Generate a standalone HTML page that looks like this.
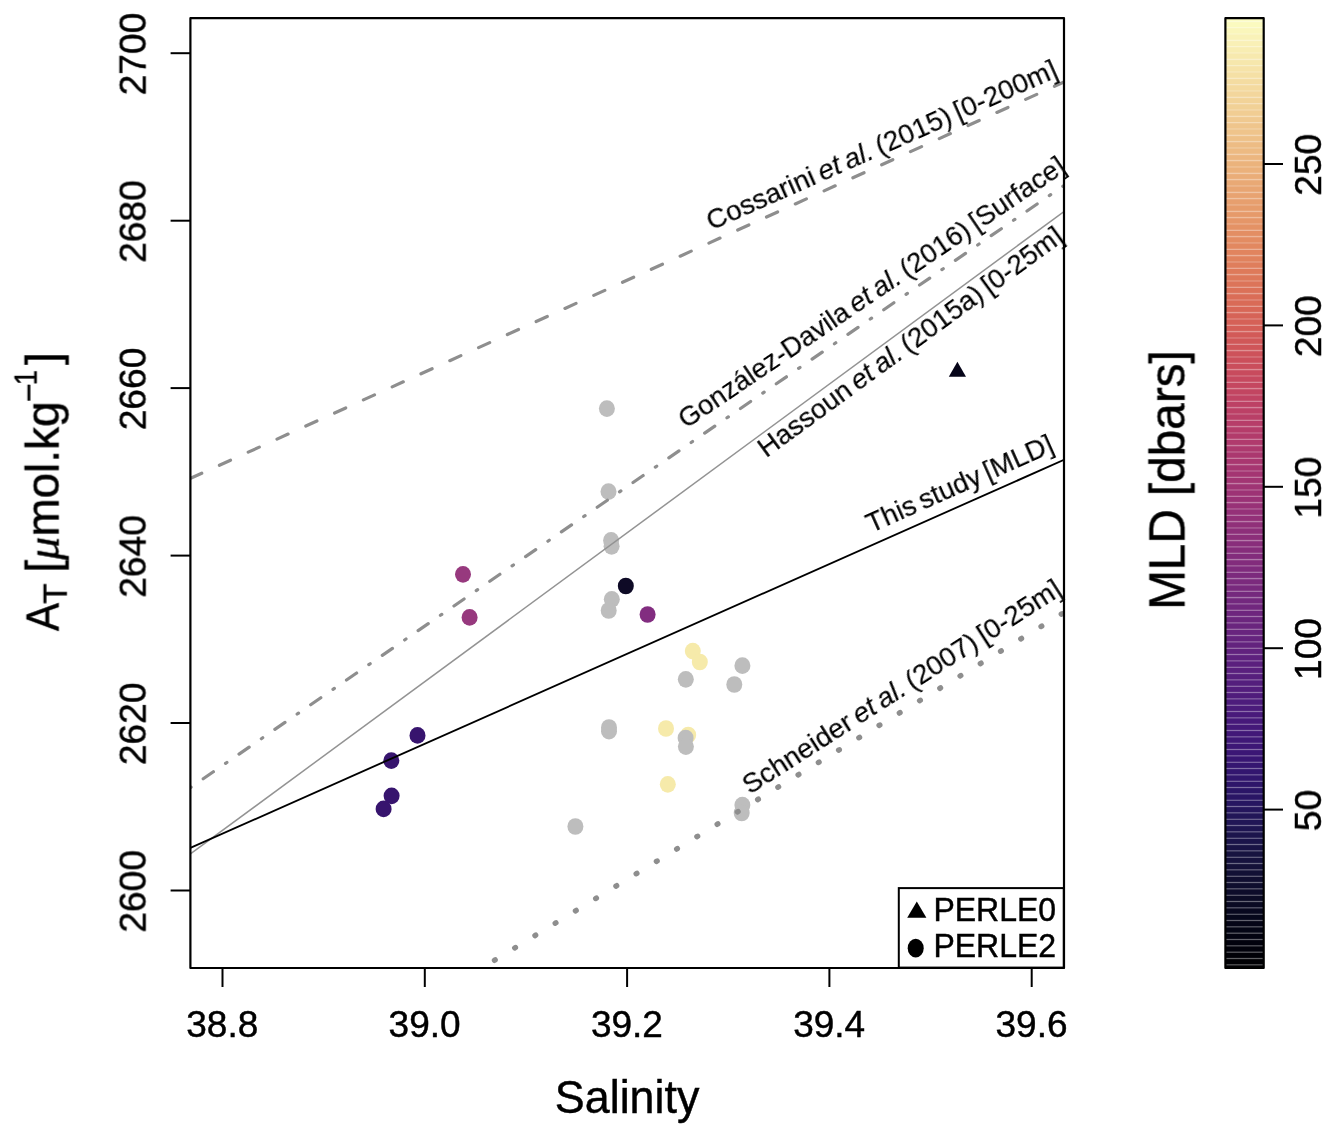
<!DOCTYPE html><html><head><meta charset="utf-8"><style>
html,body{margin:0;padding:0;background:#fff;}
svg{display:block;}
text{will-change:transform;}
text{font-family:"Liberation Sans", sans-serif;stroke:#000;stroke-width:0.45px;}
</style></head><body>
<svg width="1336" height="1136" viewBox="0 0 1336 1136">
<defs><clipPath id="pc"><rect x="190.4" y="18.2" width="873.6" height="949.8"/></clipPath></defs>

<g clip-path="url(#pc)">
<ellipse cx="463.0" cy="574.3" rx="8.0" ry="8.35" fill="#97397e"/>
<ellipse cx="469.6" cy="617.4" rx="8.0" ry="8.35" fill="#97397e"/>
<ellipse cx="647.6" cy="614.5" rx="8.0" ry="8.35" fill="#822d80"/>
<ellipse cx="417.5" cy="735.4" rx="8.0" ry="8.35" fill="#37146e"/>
<ellipse cx="391.3" cy="760.6" rx="8.0" ry="8.35" fill="#37146e"/>
<ellipse cx="391.6" cy="795.8" rx="8.0" ry="8.35" fill="#37146e"/>
<ellipse cx="383.6" cy="808.9" rx="8.0" ry="8.35" fill="#37146e"/>
<ellipse cx="692.8" cy="651.1" rx="8.0" ry="8.35" fill="#f6eaaa"/>
<ellipse cx="699.8" cy="662.0" rx="8.0" ry="8.35" fill="#f6eaaa"/>
<ellipse cx="666.0" cy="728.5" rx="8.0" ry="8.35" fill="#f6eaaa"/>
<ellipse cx="688.2" cy="735.0" rx="8.0" ry="8.35" fill="#f6eaaa"/>
<ellipse cx="667.8" cy="784.3" rx="8.0" ry="8.35" fill="#f6eaaa"/>
<ellipse cx="606.9" cy="408.6" rx="8.0" ry="8.35" fill="#bdbdbd"/>
<ellipse cx="608.5" cy="491.6" rx="8.0" ry="8.35" fill="#bdbdbd"/>
<ellipse cx="611.1" cy="540.4" rx="8.0" ry="8.35" fill="#bdbdbd"/>
<ellipse cx="611.6" cy="546.3" rx="8.0" ry="8.35" fill="#bdbdbd"/>
<ellipse cx="611.8" cy="599.3" rx="8.0" ry="8.35" fill="#bdbdbd"/>
<ellipse cx="608.7" cy="610.5" rx="8.0" ry="8.35" fill="#bdbdbd"/>
<ellipse cx="609.0" cy="727.5" rx="8.0" ry="8.35" fill="#bdbdbd"/>
<ellipse cx="609.0" cy="731.2" rx="8.0" ry="8.35" fill="#bdbdbd"/>
<ellipse cx="575.4" cy="826.5" rx="8.0" ry="8.35" fill="#bdbdbd"/>
<ellipse cx="685.8" cy="679.3" rx="8.0" ry="8.35" fill="#bdbdbd"/>
<ellipse cx="742.4" cy="665.7" rx="8.0" ry="8.35" fill="#bdbdbd"/>
<ellipse cx="734.3" cy="684.5" rx="8.0" ry="8.35" fill="#bdbdbd"/>
<ellipse cx="742.4" cy="805.1" rx="8.0" ry="8.35" fill="#bdbdbd"/>
<ellipse cx="741.7" cy="813.0" rx="8.0" ry="8.35" fill="#bdbdbd"/>
<ellipse cx="685.6" cy="738.0" rx="8.0" ry="8.35" fill="#bdbdbd"/>
<ellipse cx="685.9" cy="746.6" rx="8.0" ry="8.35" fill="#bdbdbd"/>
<ellipse cx="625.8" cy="586.0" rx="8.0" ry="8.35" fill="#0e0a26"/>
<path d="M948.8,376.8 L966.0,376.8 L957.4,361.8 Z" fill="#060519"/>
<line x1="190.4" y1="478.4" x2="1064.0" y2="82.0" stroke="#8e8e8e" stroke-width="3.2" stroke-linecap="round" stroke-dasharray="12.2 19.42" stroke-dashoffset="-0.25"/>
<line x1="190.4" y1="787.6" x2="1064.0" y2="185.5" stroke="#8e8e8e" stroke-width="3.2" stroke-linecap="round" stroke-dasharray="1.65 14.75 12.3 14.8" stroke-dashoffset="0.825"/>
<line x1="190.4" y1="854.0" x2="1064.0" y2="211.5" stroke="#939393" stroke-width="1.5"/>
<line x1="190.4" y1="847.9" x2="1064.0" y2="459.8" stroke="#000" stroke-width="1.85"/>
<line x1="190.4" y1="1146.00752" x2="1064.0" y2="612.5" stroke="#8e8e8e" stroke-width="5.4" stroke-linecap="round" stroke-dasharray="0.8 22.92" stroke-dashoffset="-0.5"/>
</g>
<text transform="translate(711.4,230.7) rotate(-23.92)" font-size="27.9" word-spacing="-2.5" style="stroke-width:0.15px">Cossarini <tspan font-style="italic">et al.</tspan> (2015) [0-200m]</text>
<text transform="translate(686.1,429.2) rotate(-34.14)" font-size="27.33" word-spacing="-2.5" style="stroke-width:0.15px">González-Davila <tspan font-style="italic">et al.</tspan> (2016) [Surface]</text>
<text transform="translate(766.2,458.4) rotate(-36.11)" font-size="27.58" word-spacing="-2.5" style="stroke-width:0.15px">Hassoun <tspan font-style="italic">et al.</tspan> (2015a) [0-25m]</text>
<text transform="translate(871.1,533.3) rotate(-24.04)" font-size="27.58" word-spacing="-2.5" style="stroke-width:0.15px">This study [MLD]</text>
<text transform="translate(749.8,795.0) rotate(-32.65)" font-size="27.77" word-spacing="-2.5" style="stroke-width:0.15px">Schneider <tspan font-style="italic">et al.</tspan> (2007) [0-25m]</text>
<rect x="898.8" y="888.1" width="165.0" height="79.5" fill="#fff" stroke="#000" stroke-width="2"/>
<path d="M907.2,917.7 L926.4,917.7 L916.8,901.6 Z" fill="#000"/>
<ellipse cx="915.7" cy="948.2" rx="8.0" ry="9.4" fill="#000"/>
<text transform="translate(933.4,921.0) scale(1,1.03)" font-size="32">PERLE0</text>
<text transform="translate(933.4,957.3) scale(1,1.03)" font-size="32">PERLE2</text>
<rect x="190.4" y="18.2" width="873.6" height="949.8" fill="none" stroke="#000" stroke-width="2.2" stroke-linejoin="round"/>
<line x1="170.6" y1="890.5" x2="190.4" y2="890.5" stroke="#000" stroke-width="2"/>
<text transform="translate(145.6,891.4) rotate(-90)" text-anchor="middle" font-size="37.2">2600</text>
<line x1="170.6" y1="723.0" x2="190.4" y2="723.0" stroke="#000" stroke-width="2"/>
<text transform="translate(145.6,723.9) rotate(-90)" text-anchor="middle" font-size="37.2">2620</text>
<line x1="170.6" y1="555.6" x2="190.4" y2="555.6" stroke="#000" stroke-width="2"/>
<text transform="translate(145.6,556.5) rotate(-90)" text-anchor="middle" font-size="37.2">2640</text>
<line x1="170.6" y1="388.1" x2="190.4" y2="388.1" stroke="#000" stroke-width="2"/>
<text transform="translate(145.6,389.0) rotate(-90)" text-anchor="middle" font-size="37.2">2660</text>
<line x1="170.6" y1="220.7" x2="190.4" y2="220.7" stroke="#000" stroke-width="2"/>
<text transform="translate(145.6,221.6) rotate(-90)" text-anchor="middle" font-size="37.2">2680</text>
<line x1="170.6" y1="53.2" x2="190.4" y2="53.2" stroke="#000" stroke-width="2"/>
<text transform="translate(145.6,54.1) rotate(-90)" text-anchor="middle" font-size="37.2">2700</text>
<line x1="222.5" y1="968.0" x2="222.5" y2="987" stroke="#000" stroke-width="2"/>
<text x="222.3" y="1036.6" text-anchor="middle" font-size="37">38.8</text>
<line x1="424.8" y1="968.0" x2="424.8" y2="987" stroke="#000" stroke-width="2"/>
<text x="424.6" y="1036.6" text-anchor="middle" font-size="37">39.0</text>
<line x1="627.1" y1="968.0" x2="627.1" y2="987" stroke="#000" stroke-width="2"/>
<text x="626.9" y="1036.6" text-anchor="middle" font-size="37">39.2</text>
<line x1="829.4" y1="968.0" x2="829.4" y2="987" stroke="#000" stroke-width="2"/>
<text x="829.2" y="1036.6" text-anchor="middle" font-size="37">39.4</text>
<line x1="1031.7" y1="968.0" x2="1031.7" y2="987" stroke="#000" stroke-width="2"/>
<text x="1031.5" y="1036.6" text-anchor="middle" font-size="37">39.6</text>
<text transform="translate(627.1,1112.7) scale(0.975,1.025)" text-anchor="middle" font-size="46">Salinity</text>
<text transform="translate(58.6,631.2) rotate(-90) scale(0.92,1.0)" font-size="46">A</text>
<text transform="translate(66.7,603.7) rotate(-90)" font-size="33">T</text>
<text transform="translate(58.6,572.7) rotate(-90)" font-size="46">[<tspan font-family="Liberation Serif" font-style="italic">μ</tspan>mol.kg</text>
<text transform="translate(39.7,402.0) rotate(-90)" font-size="32">−</text>
<text transform="translate(36.6,385.1) rotate(-90) scale(0.85,1)" font-size="32">1</text>
<text transform="translate(58.6,365.0) rotate(-90)" font-size="46">]</text>
<svg x="1225.4" y="18.2" width="38.299999999999955" height="949.8" viewBox="1225.4 18.2 38.299999999999955 949.8">
<rect x="1225.4" y="964.83" width="38.299999999999955" height="6.38" fill="#000003"/>
<rect x="1225.4" y="958.50" width="38.299999999999955" height="6.38" fill="#000004"/>
<rect x="1225.4" y="952.17" width="38.299999999999955" height="6.38" fill="#010107"/>
<rect x="1225.4" y="945.84" width="38.299999999999955" height="6.38" fill="#02020b"/>
<rect x="1225.4" y="939.51" width="38.299999999999955" height="6.38" fill="#02020d"/>
<rect x="1225.4" y="933.17" width="38.299999999999955" height="6.38" fill="#030311"/>
<rect x="1225.4" y="926.84" width="38.299999999999955" height="6.38" fill="#040515"/>
<rect x="1225.4" y="920.51" width="38.299999999999955" height="6.38" fill="#050517"/>
<rect x="1225.4" y="914.18" width="38.299999999999955" height="6.38" fill="#06071b"/>
<rect x="1225.4" y="907.85" width="38.299999999999955" height="6.38" fill="#08081f"/>
<rect x="1225.4" y="901.51" width="38.299999999999955" height="6.38" fill="#0a0a23"/>
<rect x="1225.4" y="895.18" width="38.299999999999955" height="6.38" fill="#0b0b25"/>
<rect x="1225.4" y="888.85" width="38.299999999999955" height="6.38" fill="#0d0c2a"/>
<rect x="1225.4" y="882.52" width="38.299999999999955" height="6.38" fill="#0f0e2e"/>
<rect x="1225.4" y="876.19" width="38.299999999999955" height="6.38" fill="#100e30"/>
<rect x="1225.4" y="869.85" width="38.299999999999955" height="6.38" fill="#121035"/>
<rect x="1225.4" y="863.52" width="38.299999999999955" height="6.38" fill="#141139"/>
<rect x="1225.4" y="857.19" width="38.299999999999955" height="6.38" fill="#16123e"/>
<rect x="1225.4" y="850.86" width="38.299999999999955" height="6.38" fill="#171340"/>
<rect x="1225.4" y="844.53" width="38.299999999999955" height="6.38" fill="#191345"/>
<rect x="1225.4" y="838.19" width="38.299999999999955" height="6.38" fill="#1b144a"/>
<rect x="1225.4" y="831.86" width="38.299999999999955" height="6.38" fill="#1c154c"/>
<rect x="1225.4" y="825.53" width="38.299999999999955" height="6.38" fill="#1e1551"/>
<rect x="1225.4" y="819.20" width="38.299999999999955" height="6.38" fill="#211656"/>
<rect x="1225.4" y="812.87" width="38.299999999999955" height="6.38" fill="#221658"/>
<rect x="1225.4" y="806.53" width="38.299999999999955" height="6.38" fill="#25165d"/>
<rect x="1225.4" y="800.20" width="38.299999999999955" height="6.38" fill="#271661"/>
<rect x="1225.4" y="793.87" width="38.299999999999955" height="6.38" fill="#2a1665"/>
<rect x="1225.4" y="787.54" width="38.299999999999955" height="6.38" fill="#2b1667"/>
<rect x="1225.4" y="781.21" width="38.299999999999955" height="6.38" fill="#2e166a"/>
<rect x="1225.4" y="774.87" width="38.299999999999955" height="6.38" fill="#31166d"/>
<rect x="1225.4" y="768.54" width="38.299999999999955" height="6.38" fill="#33166f"/>
<rect x="1225.4" y="762.21" width="38.299999999999955" height="6.38" fill="#351671"/>
<rect x="1225.4" y="755.88" width="38.299999999999955" height="6.38" fill="#381673"/>
<rect x="1225.4" y="749.55" width="38.299999999999955" height="6.38" fill="#3b1775"/>
<rect x="1225.4" y="743.21" width="38.299999999999955" height="6.38" fill="#3d1776"/>
<rect x="1225.4" y="736.88" width="38.299999999999955" height="6.38" fill="#3f1877"/>
<rect x="1225.4" y="730.55" width="38.299999999999955" height="6.38" fill="#421878"/>
<rect x="1225.4" y="724.22" width="38.299999999999955" height="6.38" fill="#441979"/>
<rect x="1225.4" y="717.89" width="38.299999999999955" height="6.38" fill="#46197a"/>
<rect x="1225.4" y="711.55" width="38.299999999999955" height="6.38" fill="#491a7b"/>
<rect x="1225.4" y="705.22" width="38.299999999999955" height="6.38" fill="#4b1b7b"/>
<rect x="1225.4" y="698.89" width="38.299999999999955" height="6.38" fill="#4d1c7c"/>
<rect x="1225.4" y="692.56" width="38.299999999999955" height="6.38" fill="#501c7c"/>
<rect x="1225.4" y="686.23" width="38.299999999999955" height="6.38" fill="#531d7d"/>
<rect x="1225.4" y="679.89" width="38.299999999999955" height="6.38" fill="#541e7d"/>
<rect x="1225.4" y="673.56" width="38.299999999999955" height="6.38" fill="#571f7d"/>
<rect x="1225.4" y="667.23" width="38.299999999999955" height="6.38" fill="#5a207e"/>
<rect x="1225.4" y="660.90" width="38.299999999999955" height="6.38" fill="#5b207e"/>
<rect x="1225.4" y="654.57" width="38.299999999999955" height="6.38" fill="#5e217e"/>
<rect x="1225.4" y="648.23" width="38.299999999999955" height="6.38" fill="#61227e"/>
<rect x="1225.4" y="641.90" width="38.299999999999955" height="6.38" fill="#63237e"/>
<rect x="1225.4" y="635.57" width="38.299999999999955" height="6.38" fill="#65237e"/>
<rect x="1225.4" y="629.24" width="38.299999999999955" height="6.38" fill="#68247e"/>
<rect x="1225.4" y="622.91" width="38.299999999999955" height="6.38" fill="#6a257e"/>
<rect x="1225.4" y="616.57" width="38.299999999999955" height="6.38" fill="#6c267e"/>
<rect x="1225.4" y="610.24" width="38.299999999999955" height="6.38" fill="#6e267e"/>
<rect x="1225.4" y="603.91" width="38.299999999999955" height="6.38" fill="#71277e"/>
<rect x="1225.4" y="597.58" width="38.299999999999955" height="6.38" fill="#73287e"/>
<rect x="1225.4" y="591.25" width="38.299999999999955" height="6.38" fill="#75297e"/>
<rect x="1225.4" y="584.91" width="38.299999999999955" height="6.38" fill="#78297d"/>
<rect x="1225.4" y="578.58" width="38.299999999999955" height="6.38" fill="#7b2a7d"/>
<rect x="1225.4" y="572.25" width="38.299999999999955" height="6.38" fill="#7c2a7d"/>
<rect x="1225.4" y="565.92" width="38.299999999999955" height="6.38" fill="#7f2b7d"/>
<rect x="1225.4" y="559.59" width="38.299999999999955" height="6.38" fill="#822c7c"/>
<rect x="1225.4" y="553.25" width="38.299999999999955" height="6.38" fill="#832c7c"/>
<rect x="1225.4" y="546.92" width="38.299999999999955" height="6.38" fill="#862d7b"/>
<rect x="1225.4" y="540.59" width="38.299999999999955" height="6.38" fill="#892e7b"/>
<rect x="1225.4" y="534.26" width="38.299999999999955" height="6.38" fill="#8c2f7a"/>
<rect x="1225.4" y="527.93" width="38.299999999999955" height="6.38" fill="#8d2f7a"/>
<rect x="1225.4" y="521.59" width="38.299999999999955" height="6.38" fill="#903079"/>
<rect x="1225.4" y="515.26" width="38.299999999999955" height="6.38" fill="#933078"/>
<rect x="1225.4" y="508.93" width="38.299999999999955" height="6.38" fill="#953178"/>
<rect x="1225.4" y="502.60" width="38.299999999999955" height="6.38" fill="#983277"/>
<rect x="1225.4" y="496.27" width="38.299999999999955" height="6.38" fill="#9a3276"/>
<rect x="1225.4" y="489.93" width="38.299999999999955" height="6.38" fill="#9d3375"/>
<rect x="1225.4" y="483.60" width="38.299999999999955" height="6.38" fill="#9f3474"/>
<rect x="1225.4" y="477.27" width="38.299999999999955" height="6.38" fill="#a23573"/>
<rect x="1225.4" y="470.94" width="38.299999999999955" height="6.38" fill="#a43572"/>
<rect x="1225.4" y="464.61" width="38.299999999999955" height="6.38" fill="#a63671"/>
<rect x="1225.4" y="458.27" width="38.299999999999955" height="6.38" fill="#a93770"/>
<rect x="1225.4" y="451.94" width="38.299999999999955" height="6.38" fill="#ab386f"/>
<rect x="1225.4" y="445.61" width="38.299999999999955" height="6.38" fill="#ad396e"/>
<rect x="1225.4" y="439.28" width="38.299999999999955" height="6.38" fill="#b03a6d"/>
<rect x="1225.4" y="432.95" width="38.299999999999955" height="6.38" fill="#b23b6b"/>
<rect x="1225.4" y="426.61" width="38.299999999999955" height="6.38" fill="#b53c6a"/>
<rect x="1225.4" y="420.28" width="38.299999999999955" height="6.38" fill="#b73d69"/>
<rect x="1225.4" y="413.95" width="38.299999999999955" height="6.38" fill="#b93f67"/>
<rect x="1225.4" y="407.62" width="38.299999999999955" height="6.38" fill="#bc4066"/>
<rect x="1225.4" y="401.29" width="38.299999999999955" height="6.38" fill="#bd4165"/>
<rect x="1225.4" y="394.95" width="38.299999999999955" height="6.38" fill="#c04363"/>
<rect x="1225.4" y="388.62" width="38.299999999999955" height="6.38" fill="#c24561"/>
<rect x="1225.4" y="382.29" width="38.299999999999955" height="6.38" fill="#c54760"/>
<rect x="1225.4" y="375.96" width="38.299999999999955" height="6.38" fill="#c6495f"/>
<rect x="1225.4" y="369.63" width="38.299999999999955" height="6.38" fill="#c84b5d"/>
<rect x="1225.4" y="363.29" width="38.299999999999955" height="6.38" fill="#ca4e5c"/>
<rect x="1225.4" y="356.96" width="38.299999999999955" height="6.38" fill="#cb4f5b"/>
<rect x="1225.4" y="350.63" width="38.299999999999955" height="6.38" fill="#cd525a"/>
<rect x="1225.4" y="344.30" width="38.299999999999955" height="6.38" fill="#cf5559"/>
<rect x="1225.4" y="337.97" width="38.299999999999955" height="6.38" fill="#d05758"/>
<rect x="1225.4" y="331.63" width="38.299999999999955" height="6.38" fill="#d25a58"/>
<rect x="1225.4" y="325.30" width="38.299999999999955" height="6.38" fill="#d45e57"/>
<rect x="1225.4" y="318.97" width="38.299999999999955" height="6.38" fill="#d56157"/>
<rect x="1225.4" y="312.64" width="38.299999999999955" height="6.38" fill="#d66357"/>
<rect x="1225.4" y="306.31" width="38.299999999999955" height="6.38" fill="#d86757"/>
<rect x="1225.4" y="299.97" width="38.299999999999955" height="6.38" fill="#d96b57"/>
<rect x="1225.4" y="293.64" width="38.299999999999955" height="6.38" fill="#da6d57"/>
<rect x="1225.4" y="287.31" width="38.299999999999955" height="6.38" fill="#db7158"/>
<rect x="1225.4" y="280.98" width="38.299999999999955" height="6.38" fill="#dc7459"/>
<rect x="1225.4" y="274.65" width="38.299999999999955" height="6.38" fill="#dd785a"/>
<rect x="1225.4" y="268.31" width="38.299999999999955" height="6.38" fill="#de7a5a"/>
<rect x="1225.4" y="261.98" width="38.299999999999955" height="6.38" fill="#df7e5c"/>
<rect x="1225.4" y="255.65" width="38.299999999999955" height="6.38" fill="#e0825d"/>
<rect x="1225.4" y="249.32" width="38.299999999999955" height="6.38" fill="#e1845e"/>
<rect x="1225.4" y="242.99" width="38.299999999999955" height="6.38" fill="#e28860"/>
<rect x="1225.4" y="236.65" width="38.299999999999955" height="6.38" fill="#e38c62"/>
<rect x="1225.4" y="230.32" width="38.299999999999955" height="6.38" fill="#e38e63"/>
<rect x="1225.4" y="223.99" width="38.299999999999955" height="6.38" fill="#e49265"/>
<rect x="1225.4" y="217.66" width="38.299999999999955" height="6.38" fill="#e59668"/>
<rect x="1225.4" y="211.33" width="38.299999999999955" height="6.38" fill="#e69a6a"/>
<rect x="1225.4" y="204.99" width="38.299999999999955" height="6.38" fill="#e69c6b"/>
<rect x="1225.4" y="198.66" width="38.299999999999955" height="6.38" fill="#e79f6e"/>
<rect x="1225.4" y="192.33" width="38.299999999999955" height="6.38" fill="#e8a371"/>
<rect x="1225.4" y="186.00" width="38.299999999999955" height="6.38" fill="#e8a572"/>
<rect x="1225.4" y="179.67" width="38.299999999999955" height="6.38" fill="#e9a975"/>
<rect x="1225.4" y="173.33" width="38.299999999999955" height="6.38" fill="#eaad78"/>
<rect x="1225.4" y="167.00" width="38.299999999999955" height="6.38" fill="#ebb17b"/>
<rect x="1225.4" y="160.67" width="38.299999999999955" height="6.38" fill="#ebb37c"/>
<rect x="1225.4" y="154.34" width="38.299999999999955" height="6.38" fill="#ecb67f"/>
<rect x="1225.4" y="148.01" width="38.299999999999955" height="6.38" fill="#edba82"/>
<rect x="1225.4" y="141.67" width="38.299999999999955" height="6.38" fill="#edbc84"/>
<rect x="1225.4" y="135.34" width="38.299999999999955" height="6.38" fill="#eec087"/>
<rect x="1225.4" y="129.01" width="38.299999999999955" height="6.38" fill="#efc48b"/>
<rect x="1225.4" y="122.68" width="38.299999999999955" height="6.38" fill="#efc58c"/>
<rect x="1225.4" y="116.35" width="38.299999999999955" height="6.38" fill="#f0c990"/>
<rect x="1225.4" y="110.01" width="38.299999999999955" height="6.38" fill="#f1cd93"/>
<rect x="1225.4" y="103.68" width="38.299999999999955" height="6.38" fill="#f1d196"/>
<rect x="1225.4" y="97.35" width="38.299999999999955" height="6.38" fill="#f2d398"/>
<rect x="1225.4" y="91.02" width="38.299999999999955" height="6.38" fill="#f3d69c"/>
<rect x="1225.4" y="84.69" width="38.299999999999955" height="6.38" fill="#f4da9f"/>
<rect x="1225.4" y="78.35" width="38.299999999999955" height="6.38" fill="#f4dca1"/>
<rect x="1225.4" y="72.02" width="38.299999999999955" height="6.38" fill="#f5e0a5"/>
<rect x="1225.4" y="65.69" width="38.299999999999955" height="6.38" fill="#f6e3a8"/>
<rect x="1225.4" y="59.36" width="38.299999999999955" height="6.38" fill="#f6e7ac"/>
<rect x="1225.4" y="53.03" width="38.299999999999955" height="6.38" fill="#f7e9ae"/>
<rect x="1225.4" y="46.69" width="38.299999999999955" height="6.38" fill="#f8edb2"/>
<rect x="1225.4" y="40.36" width="38.299999999999955" height="6.38" fill="#f9f0b6"/>
<rect x="1225.4" y="34.03" width="38.299999999999955" height="6.38" fill="#f9f2b8"/>
<rect x="1225.4" y="27.70" width="38.299999999999955" height="6.38" fill="#faf6bb"/>
<rect x="1225.4" y="21.37" width="38.299999999999955" height="6.38" fill="#fbfabf"/>
<rect x="1225.4" y="15.03" width="38.299999999999955" height="6.38" fill="#fcfcc1"/>
<line x1="1225.4" y1="964.83" x2="1263.7" y2="964.83" stroke="#fff" stroke-opacity="0.2" stroke-width="1.6"/>
<line x1="1225.4" y1="958.50" x2="1263.7" y2="958.50" stroke="#fff" stroke-opacity="0.2" stroke-width="1.6"/>
<line x1="1225.4" y1="952.17" x2="1263.7" y2="952.17" stroke="#fff" stroke-opacity="0.2" stroke-width="1.6"/>
<line x1="1225.4" y1="945.84" x2="1263.7" y2="945.84" stroke="#fff" stroke-opacity="0.2" stroke-width="1.6"/>
<line x1="1225.4" y1="939.51" x2="1263.7" y2="939.51" stroke="#fff" stroke-opacity="0.2" stroke-width="1.6"/>
<line x1="1225.4" y1="933.17" x2="1263.7" y2="933.17" stroke="#fff" stroke-opacity="0.2" stroke-width="1.6"/>
<line x1="1225.4" y1="926.84" x2="1263.7" y2="926.84" stroke="#fff" stroke-opacity="0.2" stroke-width="1.6"/>
<line x1="1225.4" y1="920.51" x2="1263.7" y2="920.51" stroke="#fff" stroke-opacity="0.2" stroke-width="1.6"/>
<line x1="1225.4" y1="914.18" x2="1263.7" y2="914.18" stroke="#fff" stroke-opacity="0.2" stroke-width="1.6"/>
<line x1="1225.4" y1="907.85" x2="1263.7" y2="907.85" stroke="#fff" stroke-opacity="0.2" stroke-width="1.6"/>
<line x1="1225.4" y1="901.51" x2="1263.7" y2="901.51" stroke="#fff" stroke-opacity="0.2" stroke-width="1.6"/>
<line x1="1225.4" y1="895.18" x2="1263.7" y2="895.18" stroke="#fff" stroke-opacity="0.2" stroke-width="1.6"/>
<line x1="1225.4" y1="888.85" x2="1263.7" y2="888.85" stroke="#fff" stroke-opacity="0.2" stroke-width="1.6"/>
<line x1="1225.4" y1="882.52" x2="1263.7" y2="882.52" stroke="#fff" stroke-opacity="0.2" stroke-width="1.6"/>
<line x1="1225.4" y1="876.19" x2="1263.7" y2="876.19" stroke="#fff" stroke-opacity="0.2" stroke-width="1.6"/>
<line x1="1225.4" y1="869.85" x2="1263.7" y2="869.85" stroke="#fff" stroke-opacity="0.2" stroke-width="1.6"/>
<line x1="1225.4" y1="863.52" x2="1263.7" y2="863.52" stroke="#fff" stroke-opacity="0.2" stroke-width="1.6"/>
<line x1="1225.4" y1="857.19" x2="1263.7" y2="857.19" stroke="#fff" stroke-opacity="0.2" stroke-width="1.6"/>
<line x1="1225.4" y1="850.86" x2="1263.7" y2="850.86" stroke="#fff" stroke-opacity="0.2" stroke-width="1.6"/>
<line x1="1225.4" y1="844.53" x2="1263.7" y2="844.53" stroke="#fff" stroke-opacity="0.2" stroke-width="1.6"/>
<line x1="1225.4" y1="838.19" x2="1263.7" y2="838.19" stroke="#fff" stroke-opacity="0.2" stroke-width="1.6"/>
<line x1="1225.4" y1="831.86" x2="1263.7" y2="831.86" stroke="#fff" stroke-opacity="0.2" stroke-width="1.6"/>
<line x1="1225.4" y1="825.53" x2="1263.7" y2="825.53" stroke="#fff" stroke-opacity="0.2" stroke-width="1.6"/>
<line x1="1225.4" y1="819.20" x2="1263.7" y2="819.20" stroke="#fff" stroke-opacity="0.2" stroke-width="1.6"/>
<line x1="1225.4" y1="812.87" x2="1263.7" y2="812.87" stroke="#fff" stroke-opacity="0.2" stroke-width="1.6"/>
<line x1="1225.4" y1="806.53" x2="1263.7" y2="806.53" stroke="#fff" stroke-opacity="0.2" stroke-width="1.6"/>
<line x1="1225.4" y1="800.20" x2="1263.7" y2="800.20" stroke="#fff" stroke-opacity="0.2" stroke-width="1.6"/>
<line x1="1225.4" y1="793.87" x2="1263.7" y2="793.87" stroke="#fff" stroke-opacity="0.2" stroke-width="1.6"/>
<line x1="1225.4" y1="787.54" x2="1263.7" y2="787.54" stroke="#fff" stroke-opacity="0.2" stroke-width="1.6"/>
<line x1="1225.4" y1="781.21" x2="1263.7" y2="781.21" stroke="#fff" stroke-opacity="0.2" stroke-width="1.6"/>
<line x1="1225.4" y1="774.87" x2="1263.7" y2="774.87" stroke="#fff" stroke-opacity="0.2" stroke-width="1.6"/>
<line x1="1225.4" y1="768.54" x2="1263.7" y2="768.54" stroke="#fff" stroke-opacity="0.2" stroke-width="1.6"/>
<line x1="1225.4" y1="762.21" x2="1263.7" y2="762.21" stroke="#fff" stroke-opacity="0.2" stroke-width="1.6"/>
<line x1="1225.4" y1="755.88" x2="1263.7" y2="755.88" stroke="#fff" stroke-opacity="0.2" stroke-width="1.6"/>
<line x1="1225.4" y1="749.55" x2="1263.7" y2="749.55" stroke="#fff" stroke-opacity="0.2" stroke-width="1.6"/>
<line x1="1225.4" y1="743.21" x2="1263.7" y2="743.21" stroke="#fff" stroke-opacity="0.2" stroke-width="1.6"/>
<line x1="1225.4" y1="736.88" x2="1263.7" y2="736.88" stroke="#fff" stroke-opacity="0.2" stroke-width="1.6"/>
<line x1="1225.4" y1="730.55" x2="1263.7" y2="730.55" stroke="#fff" stroke-opacity="0.2" stroke-width="1.6"/>
<line x1="1225.4" y1="724.22" x2="1263.7" y2="724.22" stroke="#fff" stroke-opacity="0.2" stroke-width="1.6"/>
<line x1="1225.4" y1="717.89" x2="1263.7" y2="717.89" stroke="#fff" stroke-opacity="0.2" stroke-width="1.6"/>
<line x1="1225.4" y1="711.55" x2="1263.7" y2="711.55" stroke="#fff" stroke-opacity="0.2" stroke-width="1.6"/>
<line x1="1225.4" y1="705.22" x2="1263.7" y2="705.22" stroke="#fff" stroke-opacity="0.2" stroke-width="1.6"/>
<line x1="1225.4" y1="698.89" x2="1263.7" y2="698.89" stroke="#fff" stroke-opacity="0.2" stroke-width="1.6"/>
<line x1="1225.4" y1="692.56" x2="1263.7" y2="692.56" stroke="#fff" stroke-opacity="0.2" stroke-width="1.6"/>
<line x1="1225.4" y1="686.23" x2="1263.7" y2="686.23" stroke="#fff" stroke-opacity="0.2" stroke-width="1.6"/>
<line x1="1225.4" y1="679.89" x2="1263.7" y2="679.89" stroke="#fff" stroke-opacity="0.2" stroke-width="1.6"/>
<line x1="1225.4" y1="673.56" x2="1263.7" y2="673.56" stroke="#fff" stroke-opacity="0.2" stroke-width="1.6"/>
<line x1="1225.4" y1="667.23" x2="1263.7" y2="667.23" stroke="#fff" stroke-opacity="0.2" stroke-width="1.6"/>
<line x1="1225.4" y1="660.90" x2="1263.7" y2="660.90" stroke="#fff" stroke-opacity="0.2" stroke-width="1.6"/>
<line x1="1225.4" y1="654.57" x2="1263.7" y2="654.57" stroke="#fff" stroke-opacity="0.2" stroke-width="1.6"/>
<line x1="1225.4" y1="648.23" x2="1263.7" y2="648.23" stroke="#fff" stroke-opacity="0.2" stroke-width="1.6"/>
<line x1="1225.4" y1="641.90" x2="1263.7" y2="641.90" stroke="#fff" stroke-opacity="0.2" stroke-width="1.6"/>
<line x1="1225.4" y1="635.57" x2="1263.7" y2="635.57" stroke="#fff" stroke-opacity="0.2" stroke-width="1.6"/>
<line x1="1225.4" y1="629.24" x2="1263.7" y2="629.24" stroke="#fff" stroke-opacity="0.2" stroke-width="1.6"/>
<line x1="1225.4" y1="622.91" x2="1263.7" y2="622.91" stroke="#fff" stroke-opacity="0.2" stroke-width="1.6"/>
<line x1="1225.4" y1="616.57" x2="1263.7" y2="616.57" stroke="#fff" stroke-opacity="0.2" stroke-width="1.6"/>
<line x1="1225.4" y1="610.24" x2="1263.7" y2="610.24" stroke="#fff" stroke-opacity="0.2" stroke-width="1.6"/>
<line x1="1225.4" y1="603.91" x2="1263.7" y2="603.91" stroke="#fff" stroke-opacity="0.2" stroke-width="1.6"/>
<line x1="1225.4" y1="597.58" x2="1263.7" y2="597.58" stroke="#fff" stroke-opacity="0.2" stroke-width="1.6"/>
<line x1="1225.4" y1="591.25" x2="1263.7" y2="591.25" stroke="#fff" stroke-opacity="0.2" stroke-width="1.6"/>
<line x1="1225.4" y1="584.91" x2="1263.7" y2="584.91" stroke="#fff" stroke-opacity="0.2" stroke-width="1.6"/>
<line x1="1225.4" y1="578.58" x2="1263.7" y2="578.58" stroke="#fff" stroke-opacity="0.2" stroke-width="1.6"/>
<line x1="1225.4" y1="572.25" x2="1263.7" y2="572.25" stroke="#fff" stroke-opacity="0.2" stroke-width="1.6"/>
<line x1="1225.4" y1="565.92" x2="1263.7" y2="565.92" stroke="#fff" stroke-opacity="0.2" stroke-width="1.6"/>
<line x1="1225.4" y1="559.59" x2="1263.7" y2="559.59" stroke="#fff" stroke-opacity="0.2" stroke-width="1.6"/>
<line x1="1225.4" y1="553.25" x2="1263.7" y2="553.25" stroke="#fff" stroke-opacity="0.2" stroke-width="1.6"/>
<line x1="1225.4" y1="546.92" x2="1263.7" y2="546.92" stroke="#fff" stroke-opacity="0.2" stroke-width="1.6"/>
<line x1="1225.4" y1="540.59" x2="1263.7" y2="540.59" stroke="#fff" stroke-opacity="0.2" stroke-width="1.6"/>
<line x1="1225.4" y1="534.26" x2="1263.7" y2="534.26" stroke="#fff" stroke-opacity="0.2" stroke-width="1.6"/>
<line x1="1225.4" y1="527.93" x2="1263.7" y2="527.93" stroke="#fff" stroke-opacity="0.2" stroke-width="1.6"/>
<line x1="1225.4" y1="521.59" x2="1263.7" y2="521.59" stroke="#fff" stroke-opacity="0.2" stroke-width="1.6"/>
<line x1="1225.4" y1="515.26" x2="1263.7" y2="515.26" stroke="#fff" stroke-opacity="0.2" stroke-width="1.6"/>
<line x1="1225.4" y1="508.93" x2="1263.7" y2="508.93" stroke="#fff" stroke-opacity="0.2" stroke-width="1.6"/>
<line x1="1225.4" y1="502.60" x2="1263.7" y2="502.60" stroke="#fff" stroke-opacity="0.2" stroke-width="1.6"/>
<line x1="1225.4" y1="496.27" x2="1263.7" y2="496.27" stroke="#fff" stroke-opacity="0.2" stroke-width="1.6"/>
<line x1="1225.4" y1="489.93" x2="1263.7" y2="489.93" stroke="#fff" stroke-opacity="0.2" stroke-width="1.6"/>
<line x1="1225.4" y1="483.60" x2="1263.7" y2="483.60" stroke="#fff" stroke-opacity="0.2" stroke-width="1.6"/>
<line x1="1225.4" y1="477.27" x2="1263.7" y2="477.27" stroke="#fff" stroke-opacity="0.2" stroke-width="1.6"/>
<line x1="1225.4" y1="470.94" x2="1263.7" y2="470.94" stroke="#fff" stroke-opacity="0.2" stroke-width="1.6"/>
<line x1="1225.4" y1="464.61" x2="1263.7" y2="464.61" stroke="#fff" stroke-opacity="0.2" stroke-width="1.6"/>
<line x1="1225.4" y1="458.27" x2="1263.7" y2="458.27" stroke="#fff" stroke-opacity="0.2" stroke-width="1.6"/>
<line x1="1225.4" y1="451.94" x2="1263.7" y2="451.94" stroke="#fff" stroke-opacity="0.2" stroke-width="1.6"/>
<line x1="1225.4" y1="445.61" x2="1263.7" y2="445.61" stroke="#fff" stroke-opacity="0.2" stroke-width="1.6"/>
<line x1="1225.4" y1="439.28" x2="1263.7" y2="439.28" stroke="#fff" stroke-opacity="0.2" stroke-width="1.6"/>
<line x1="1225.4" y1="432.95" x2="1263.7" y2="432.95" stroke="#fff" stroke-opacity="0.2" stroke-width="1.6"/>
<line x1="1225.4" y1="426.61" x2="1263.7" y2="426.61" stroke="#fff" stroke-opacity="0.2" stroke-width="1.6"/>
<line x1="1225.4" y1="420.28" x2="1263.7" y2="420.28" stroke="#fff" stroke-opacity="0.2" stroke-width="1.6"/>
<line x1="1225.4" y1="413.95" x2="1263.7" y2="413.95" stroke="#fff" stroke-opacity="0.2" stroke-width="1.6"/>
<line x1="1225.4" y1="407.62" x2="1263.7" y2="407.62" stroke="#fff" stroke-opacity="0.2" stroke-width="1.6"/>
<line x1="1225.4" y1="401.29" x2="1263.7" y2="401.29" stroke="#fff" stroke-opacity="0.2" stroke-width="1.6"/>
<line x1="1225.4" y1="394.95" x2="1263.7" y2="394.95" stroke="#fff" stroke-opacity="0.2" stroke-width="1.6"/>
<line x1="1225.4" y1="388.62" x2="1263.7" y2="388.62" stroke="#fff" stroke-opacity="0.2" stroke-width="1.6"/>
<line x1="1225.4" y1="382.29" x2="1263.7" y2="382.29" stroke="#fff" stroke-opacity="0.2" stroke-width="1.6"/>
<line x1="1225.4" y1="375.96" x2="1263.7" y2="375.96" stroke="#fff" stroke-opacity="0.2" stroke-width="1.6"/>
<line x1="1225.4" y1="369.63" x2="1263.7" y2="369.63" stroke="#fff" stroke-opacity="0.2" stroke-width="1.6"/>
<line x1="1225.4" y1="363.29" x2="1263.7" y2="363.29" stroke="#fff" stroke-opacity="0.2" stroke-width="1.6"/>
<line x1="1225.4" y1="356.96" x2="1263.7" y2="356.96" stroke="#fff" stroke-opacity="0.2" stroke-width="1.6"/>
<line x1="1225.4" y1="350.63" x2="1263.7" y2="350.63" stroke="#fff" stroke-opacity="0.2" stroke-width="1.6"/>
<line x1="1225.4" y1="344.30" x2="1263.7" y2="344.30" stroke="#fff" stroke-opacity="0.2" stroke-width="1.6"/>
<line x1="1225.4" y1="337.97" x2="1263.7" y2="337.97" stroke="#fff" stroke-opacity="0.2" stroke-width="1.6"/>
<line x1="1225.4" y1="331.63" x2="1263.7" y2="331.63" stroke="#fff" stroke-opacity="0.2" stroke-width="1.6"/>
<line x1="1225.4" y1="325.30" x2="1263.7" y2="325.30" stroke="#fff" stroke-opacity="0.2" stroke-width="1.6"/>
<line x1="1225.4" y1="318.97" x2="1263.7" y2="318.97" stroke="#fff" stroke-opacity="0.2" stroke-width="1.6"/>
<line x1="1225.4" y1="312.64" x2="1263.7" y2="312.64" stroke="#fff" stroke-opacity="0.2" stroke-width="1.6"/>
<line x1="1225.4" y1="306.31" x2="1263.7" y2="306.31" stroke="#fff" stroke-opacity="0.2" stroke-width="1.6"/>
<line x1="1225.4" y1="299.97" x2="1263.7" y2="299.97" stroke="#fff" stroke-opacity="0.2" stroke-width="1.6"/>
<line x1="1225.4" y1="293.64" x2="1263.7" y2="293.64" stroke="#fff" stroke-opacity="0.2" stroke-width="1.6"/>
<line x1="1225.4" y1="287.31" x2="1263.7" y2="287.31" stroke="#fff" stroke-opacity="0.2" stroke-width="1.6"/>
<line x1="1225.4" y1="280.98" x2="1263.7" y2="280.98" stroke="#fff" stroke-opacity="0.2" stroke-width="1.6"/>
<line x1="1225.4" y1="274.65" x2="1263.7" y2="274.65" stroke="#fff" stroke-opacity="0.2" stroke-width="1.6"/>
<line x1="1225.4" y1="268.31" x2="1263.7" y2="268.31" stroke="#fff" stroke-opacity="0.2" stroke-width="1.6"/>
<line x1="1225.4" y1="261.98" x2="1263.7" y2="261.98" stroke="#fff" stroke-opacity="0.2" stroke-width="1.6"/>
<line x1="1225.4" y1="255.65" x2="1263.7" y2="255.65" stroke="#fff" stroke-opacity="0.2" stroke-width="1.6"/>
<line x1="1225.4" y1="249.32" x2="1263.7" y2="249.32" stroke="#fff" stroke-opacity="0.2" stroke-width="1.6"/>
<line x1="1225.4" y1="242.99" x2="1263.7" y2="242.99" stroke="#fff" stroke-opacity="0.2" stroke-width="1.6"/>
<line x1="1225.4" y1="236.65" x2="1263.7" y2="236.65" stroke="#fff" stroke-opacity="0.2" stroke-width="1.6"/>
<line x1="1225.4" y1="230.32" x2="1263.7" y2="230.32" stroke="#fff" stroke-opacity="0.2" stroke-width="1.6"/>
<line x1="1225.4" y1="223.99" x2="1263.7" y2="223.99" stroke="#fff" stroke-opacity="0.2" stroke-width="1.6"/>
<line x1="1225.4" y1="217.66" x2="1263.7" y2="217.66" stroke="#fff" stroke-opacity="0.2" stroke-width="1.6"/>
<line x1="1225.4" y1="211.33" x2="1263.7" y2="211.33" stroke="#fff" stroke-opacity="0.2" stroke-width="1.6"/>
<line x1="1225.4" y1="204.99" x2="1263.7" y2="204.99" stroke="#fff" stroke-opacity="0.2" stroke-width="1.6"/>
<line x1="1225.4" y1="198.66" x2="1263.7" y2="198.66" stroke="#fff" stroke-opacity="0.2" stroke-width="1.6"/>
<line x1="1225.4" y1="192.33" x2="1263.7" y2="192.33" stroke="#fff" stroke-opacity="0.2" stroke-width="1.6"/>
<line x1="1225.4" y1="186.00" x2="1263.7" y2="186.00" stroke="#fff" stroke-opacity="0.2" stroke-width="1.6"/>
<line x1="1225.4" y1="179.67" x2="1263.7" y2="179.67" stroke="#fff" stroke-opacity="0.2" stroke-width="1.6"/>
<line x1="1225.4" y1="173.33" x2="1263.7" y2="173.33" stroke="#fff" stroke-opacity="0.2" stroke-width="1.6"/>
<line x1="1225.4" y1="167.00" x2="1263.7" y2="167.00" stroke="#fff" stroke-opacity="0.2" stroke-width="1.6"/>
<line x1="1225.4" y1="160.67" x2="1263.7" y2="160.67" stroke="#fff" stroke-opacity="0.2" stroke-width="1.6"/>
<line x1="1225.4" y1="154.34" x2="1263.7" y2="154.34" stroke="#fff" stroke-opacity="0.2" stroke-width="1.6"/>
<line x1="1225.4" y1="148.01" x2="1263.7" y2="148.01" stroke="#fff" stroke-opacity="0.2" stroke-width="1.6"/>
<line x1="1225.4" y1="141.67" x2="1263.7" y2="141.67" stroke="#fff" stroke-opacity="0.2" stroke-width="1.6"/>
<line x1="1225.4" y1="135.34" x2="1263.7" y2="135.34" stroke="#fff" stroke-opacity="0.2" stroke-width="1.6"/>
<line x1="1225.4" y1="129.01" x2="1263.7" y2="129.01" stroke="#fff" stroke-opacity="0.2" stroke-width="1.6"/>
<line x1="1225.4" y1="122.68" x2="1263.7" y2="122.68" stroke="#fff" stroke-opacity="0.2" stroke-width="1.6"/>
<line x1="1225.4" y1="116.35" x2="1263.7" y2="116.35" stroke="#fff" stroke-opacity="0.2" stroke-width="1.6"/>
<line x1="1225.4" y1="110.01" x2="1263.7" y2="110.01" stroke="#fff" stroke-opacity="0.2" stroke-width="1.6"/>
<line x1="1225.4" y1="103.68" x2="1263.7" y2="103.68" stroke="#fff" stroke-opacity="0.2" stroke-width="1.6"/>
<line x1="1225.4" y1="97.35" x2="1263.7" y2="97.35" stroke="#fff" stroke-opacity="0.2" stroke-width="1.6"/>
<line x1="1225.4" y1="91.02" x2="1263.7" y2="91.02" stroke="#fff" stroke-opacity="0.2" stroke-width="1.6"/>
<line x1="1225.4" y1="84.69" x2="1263.7" y2="84.69" stroke="#fff" stroke-opacity="0.2" stroke-width="1.6"/>
<line x1="1225.4" y1="78.35" x2="1263.7" y2="78.35" stroke="#fff" stroke-opacity="0.2" stroke-width="1.6"/>
<line x1="1225.4" y1="72.02" x2="1263.7" y2="72.02" stroke="#fff" stroke-opacity="0.2" stroke-width="1.6"/>
<line x1="1225.4" y1="65.69" x2="1263.7" y2="65.69" stroke="#fff" stroke-opacity="0.2" stroke-width="1.6"/>
<line x1="1225.4" y1="59.36" x2="1263.7" y2="59.36" stroke="#fff" stroke-opacity="0.2" stroke-width="1.6"/>
<line x1="1225.4" y1="53.03" x2="1263.7" y2="53.03" stroke="#fff" stroke-opacity="0.2" stroke-width="1.6"/>
<line x1="1225.4" y1="46.69" x2="1263.7" y2="46.69" stroke="#fff" stroke-opacity="0.2" stroke-width="1.6"/>
<line x1="1225.4" y1="40.36" x2="1263.7" y2="40.36" stroke="#fff" stroke-opacity="0.2" stroke-width="1.6"/>
<line x1="1225.4" y1="34.03" x2="1263.7" y2="34.03" stroke="#fff" stroke-opacity="0.2" stroke-width="1.6"/>
<line x1="1225.4" y1="27.70" x2="1263.7" y2="27.70" stroke="#fff" stroke-opacity="0.2" stroke-width="1.6"/>
<line x1="1225.4" y1="21.37" x2="1263.7" y2="21.37" stroke="#fff" stroke-opacity="0.2" stroke-width="1.6"/>
</svg>
<rect x="1225.4" y="18.2" width="38.299999999999955" height="949.8" fill="none" stroke="#000" stroke-width="2.2" stroke-linejoin="round"/>
<line x1="1263.7" y1="809.6" x2="1283" y2="809.6" stroke="#000" stroke-width="2"/>
<text transform="translate(1321.0,810.4) rotate(-90)" text-anchor="middle" font-size="37.2">50</text>
<line x1="1263.7" y1="648.2" x2="1283" y2="648.2" stroke="#000" stroke-width="2"/>
<text transform="translate(1321.0,649.0) rotate(-90)" text-anchor="middle" font-size="37.2">100</text>
<line x1="1263.7" y1="486.8" x2="1283" y2="486.8" stroke="#000" stroke-width="2"/>
<text transform="translate(1321.0,487.6) rotate(-90)" text-anchor="middle" font-size="37.2">150</text>
<line x1="1263.7" y1="325.4" x2="1283" y2="325.4" stroke="#000" stroke-width="2"/>
<text transform="translate(1321.0,326.2) rotate(-90)" text-anchor="middle" font-size="37.2">200</text>
<line x1="1263.7" y1="164.0" x2="1283" y2="164.0" stroke="#000" stroke-width="2"/>
<text transform="translate(1321.0,164.8) rotate(-90)" text-anchor="middle" font-size="37.2">250</text>
<text transform="translate(1184.8,480.1) rotate(-90) scale(1,1.03)" text-anchor="middle" font-size="47.7">MLD [dbars]</text>
</svg></body></html>
